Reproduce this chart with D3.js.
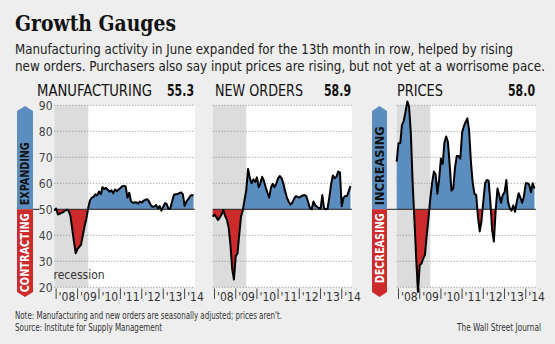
<!DOCTYPE html>
<html>
<head>
<meta charset="utf-8">
<script src="https://cdn.jsdelivr.net/npm/d3@7"></script>
<style>
  html, body { margin: 0; padding: 0; background: #eeeeee; }
  svg { display: block; }
</style>
</head>
<body>
<div id="chart"></div>
<script>
// monthly index readings, Dec 2007 through June 2014
const FIRST_MONTH = new Date(2007, 11, 1);

const manufacturing = [49.5, 50.3, 48.0, 48.3, 48.6, 48.9, 49.5, 49.9, 49.4, 47.5,
  42.5, 37.5, 33.1, 34.8, 35.6, 36.3, 40.1, 43.5, 46.5, 50.5,
  53.5, 54.5, 54.7, 55.8, 55.3, 56.8, 55.8, 58.5, 57.8, 58.2,
  57.5, 56.8, 57.3, 56.2, 57.6, 57.0, 57.6, 58.2, 58.9, 59.0,
  58.8, 54.5, 56.4, 53.1, 52.5, 52.6, 52.7, 52.2, 53.0, 52.6,
  53.3, 53.6, 53.9, 53.1, 51.7, 51.0, 51.1, 51.6, 50.4, 51.2,
  49.5, 51.0, 52.4, 52.0, 50.2, 50.3, 53.0, 55.5, 55.8, 55.8,
  56.2, 56.5, 55.8, 51.3, 53.0, 53.8, 54.9, 55.5, 55.3];

const newOrders = [47.2, 48.0, 47.0, 45.9, 46.8, 48.0, 49.7, 47.5, 46.0, 43.0,
  36.5, 27.0, 23.0, 32.0, 33.0, 40.0, 47.0, 49.5, 53.5, 57.4,
  65.5, 62.0, 60.0, 61.5, 60.5, 62.3, 58.5, 60.0, 62.5, 61.0,
  58.5, 56.4, 54.5, 58.5, 59.8, 58.5, 60.0, 62.0, 62.8, 62.0,
  60.0, 57.0, 54.5, 53.0, 51.8, 52.5, 54.0, 55.0, 54.8, 54.5,
  55.0, 55.3, 55.5, 55.0, 52.8, 50.5, 50.0, 53.0, 51.5, 51.0,
  50.5, 50.2, 55.5, 50.5, 50.0, 50.2, 54.5, 59.5, 63.0, 62.0,
  62.5, 64.5, 64.2, 51.2, 54.5, 55.1, 55.1, 56.9, 58.9];

const prices = [68.3, 75.4, 75.5, 82.5, 84.0, 87.5, 91.5, 89.5, 79.0, 60.0,
  46.0, 31.0, 18.2, 28.5, 29.2, 31.0, 32.5, 40.0, 46.5, 54.0,
  60.0, 64.5, 63.5, 56.0, 61.5, 69.5, 67.5, 75.5, 78.0, 76.0,
  67.0, 57.2, 58.0, 66.0, 70.5, 70.5, 69.5, 79.5, 82.0, 83.5,
  85.0, 80.5, 68.5, 60.5, 56.0, 55.5, 47.0, 41.5, 45.5, 53.0,
  60.0, 61.3, 61.0, 53.0, 42.0, 37.6, 49.5, 58.0, 55.5, 52.5,
  55.5, 56.5, 61.3, 53.0, 50.5, 49.5, 51.5, 49.0, 53.0, 56.2,
  54.5, 52.5, 55.0, 60.0, 60.0, 59.5, 56.5, 60.0, 58.0];

const panelTitles = ["MANUFACTURING", "NEW ORDERS", "PRICES"];
const latestLabels = ["55.3", "58.9", "58.0"];
const yearLabels = ["'08", "'09", "'10", "'11", "'12", "'13", "'14"];
const yTicks = [20, 30, 40, 50, 60, 70, 80, 90];
const RECESSION = [new Date(2007, 11, 1), new Date(2009, 6, 1)];

const WIDTH = 555;
const HEIGHT = 344;
const BLUE = "#5b8dbf";
const RED = "#cd2a2b";
const NARROW = "'Liberation Sans Narrow', 'DejaVu Sans Condensed', Roboto, sans-serif";

const svg = d3.select("#chart")
  .append("svg")
    .attr("width", WIDTH)
    .attr("height", HEIGHT);

svg.append("rect")
  .attr("width", WIDTH)
  .attr("height", HEIGHT)
  .attr("fill", "#eeeeee");

// headline and chatter
svg.append("text")
  .attr("x", 15).attr("y", 31)
  .attr("font-family", "'DejaVu Serif Condensed', 'DejaVu Serif', serif")
  .attr("font-weight", "bold")
  .attr("font-size", 22)
  .attr("textLength", 161)
  .attr("lengthAdjust", "spacingAndGlyphs")
  .attr("fill", "#111")
  .text("Growth Gauges");

const chatter = [
  ["Manufacturing activity in June expanded for the 13th month in row, helped by rising", 54, 498],
  ["new orders. Purchasers also say input prices are rising, but not yet at a worrisome pace.", 71, 530]
];
chatter.forEach(([line, ly, len]) => {
  svg.append("text")
    .attr("x", 15).attr("y", ly)
    .attr("font-family", NARROW)
    .attr("font-size", 14)
    .attr("textLength", len)
    .attr("lengthAdjust", "spacingAndGlyphs")
    .attr("fill", "#222")
    .text(line);
});

const y = d3.scaleLinear().domain([20, 90]).range([287.3, 105.3]);

const panels = [
  {id: "mfg", left: 54.3, right: 195, values: manufacturing, titleX: 37, titleLen: 115, yAxis: true,
   arrow: {x: 17, w: 16, up: "EXPANDING", upLen: 63, down: "CONTRACTING", downLen: 79}},
  {id: "ord", left: 212.7, right: 352, values: newOrders, titleX: 215, titleLen: 88, yAxis: false},
  {id: "prc", left: 396.7, right: 536, values: prices, titleX: 397, titleLen: 46, yAxis: false,
   arrow: {x: 372, w: 15, up: "INCREASING", upLen: 79, down: "DECREASING", downLen: 70}}
];

panels.forEach((p, i) => drawPanel(p, i));

function drawPanel(p, i) {
  const g = svg.append("g");
  const months = p.values.map((v, k) => d3.timeMonth.offset(FIRST_MONTH, k));
  const x = d3.scaleTime()
    .domain([FIRST_MONTH, months[months.length - 1]])
    .range([p.left, p.right - 1.5]);

  // header: name and latest reading
  g.append("text")
    .attr("x", p.titleX).attr("y", 95.5)
    .attr("font-family", NARROW)
    .attr("font-size", 15)
    .attr("textLength", p.titleLen)
    .attr("lengthAdjust", "spacingAndGlyphs")
    .attr("fill", "#111")
    .text(panelTitles[i]);

  g.append("text")
    .attr("x", p.right - 1).attr("y", 95.5)
    .attr("text-anchor", "end")
    .attr("font-family", NARROW)
    .attr("font-size", 15)
    .attr("font-weight", "bold")
    .attr("textLength", 27)
    .attr("lengthAdjust", "spacingAndGlyphs")
    .attr("fill", "#111")
    .text(latestLabels[i]);

  // plot background and recession band
  g.append("rect")
    .attr("x", p.left).attr("y", y(90))
    .attr("width", p.right - p.left)
    .attr("height", y(20) - y(90))
    .attr("fill", "#ffffff");

  g.append("rect")
    .attr("x", x(RECESSION[0])).attr("y", y(90))
    .attr("width", x(RECESSION[1]) - x(RECESSION[0]))
    .attr("height", y(20) - y(90))
    .attr("fill", "#dcdcdc");

  // dotted gridlines
  g.selectAll(".grid")
    .data(yTicks.filter(t => t !== 50))
    .enter()
    .append("line")
      .attr("x1", p.left).attr("x2", p.right)
      .attr("y1", d => y(d)).attr("y2", d => y(d))
      .attr("stroke", "#8a8a8a")
      .attr("stroke-width", 1)
      .attr("stroke-dasharray", "1,2");

  if (p.yAxis) {
    g.selectAll(".ylab")
      .data(yTicks)
      .enter()
      .append("text")
        .attr("x", 52.5)
        .attr("y", d => y(d) + 4.5)
        .attr("text-anchor", "end")
        .attr("font-family", NARROW)
        .attr("font-size", 12)
        .attr("fill", "#444")
        .text(d => d);
  }

  if (i === 0) {
    g.append("text")
      .attr("x", 53.5).attr("y", 279)
      .attr("font-family", NARROW)
      .attr("font-size", 12)
      .attr("fill", "#333")
      .text("recession");
  }

  // fills above and below 50, split with clip paths
  const base = y(50);
  const defs = svg.append("defs");
  defs.append("clipPath").attr("id", "above-" + p.id)
    .append("rect")
      .attr("x", p.left - 5).attr("y", 0)
      .attr("width", p.right - p.left + 10).attr("height", base);
  defs.append("clipPath").attr("id", "below-" + p.id)
    .append("rect")
      .attr("x", p.left - 5).attr("y", base)
      .attr("width", p.right - p.left + 10).attr("height", HEIGHT - base);

  const area = d3.area()
    .x((d, k) => x(months[k]))
    .y0(base)
    .y1(d => y(d));

  g.append("path")
    .datum(p.values)
    .attr("d", area)
    .attr("fill", BLUE)
    .attr("clip-path", "url(#above-" + p.id + ")");

  g.append("path")
    .datum(p.values)
    .attr("d", area)
    .attr("fill", RED)
    .attr("clip-path", "url(#below-" + p.id + ")");

  // the 50 line
  g.append("line")
    .attr("x1", p.left).attr("x2", p.right)
    .attr("y1", base).attr("y2", base)
    .attr("stroke", "#222")
    .attr("stroke-width", 1);

  g.append("path")
    .datum(p.values)
    .attr("d", d3.line().x((d, k) => x(months[k])).y(d => y(d)))
    .attr("fill", "none")
    .attr("stroke", "#000")
    .attr("stroke-width", 2)
    .attr("stroke-linejoin", "round");

  // year ticks along the bottom
  const years = yearLabels.map((lab, k) => new Date(2008 + k, 0, 1));
  g.selectAll(".xtick")
    .data(years)
    .enter()
    .append("line")
      .attr("x1", d => x(d)).attr("x2", d => x(d))
      .attr("y1", 288.5).attr("y2", 299)
      .attr("stroke", "#444")
      .attr("stroke-width", 1);

  g.selectAll(".xlab")
    .data(years)
    .enter()
    .append("text")
      .attr("x", d => x(d) + 2.5)
      .attr("y", 300.5)
      .attr("font-family", NARROW)
      .attr("font-size", 12)
      .attr("fill", "#333")
      .text((d, k) => yearLabels[k]);

  if (p.arrow) drawArrow(p.arrow, p.left, i === 0);
}

// two-coloured direction bar at the side of a panel
function drawArrow(a, plotLeft, hasLabels) {
  const base = y(50);
  const top = 106, bottom = 297, tip = 5;
  const cx = a.x + a.w / 2;

  svg.append("path")
    .attr("d", `M${a.x},${base} L${a.x},${top + tip} L${cx},${top} L${a.x + a.w},${top + tip} L${a.x + a.w},${base} Z`)
    .attr("fill", BLUE);

  svg.append("path")
    .attr("d", `M${a.x},${base} L${a.x},${bottom - tip} L${cx},${bottom} L${a.x + a.w},${bottom - tip} L${a.x + a.w},${base} Z`)
    .attr("fill", RED);

  // short link from the bar to the 50 line
  svg.append("line")
    .attr("x1", a.x + a.w).attr("x2", hasLabels ? 39.5 : plotLeft)
    .attr("y1", base).attr("y2", base)
    .attr("stroke", "#222")
    .attr("stroke-width", 1);

  svg.append("text")
    .attr("transform", `translate(${cx + 4},${base - 4}) rotate(-90)`)
    .attr("font-family", NARROW)
    .attr("font-weight", "bold")
    .attr("font-size", 11.5)
    .attr("textLength", a.upLen)
    .attr("lengthAdjust", "spacingAndGlyphs")
    .attr("fill", "#111")
    .text(a.up);

  svg.append("text")
    .attr("transform", `translate(${cx + 4},${base + 4 + a.downLen}) rotate(-90)`)
    .attr("font-family", NARROW)
    .attr("font-weight", "bold")
    .attr("font-size", 11.5)
    .attr("textLength", a.downLen)
    .attr("lengthAdjust", "spacingAndGlyphs")
    .attr("fill", "#ffffff")
    .text(a.down);
}

// footnotes
const notes = [
  ["Note: Manufacturing and new orders are seasonally adjusted; prices aren't.", 15, 319, "start", 267],
  ["Source: Institute for Supply Management", 15, 330.5, "start", 147],
  ["The Wall Street Journal", 541, 330.5, "end", 84]
];
notes.forEach(([txt, nx, ny, anchor, len]) => {
  svg.append("text")
    .attr("x", nx).attr("y", ny)
    .attr("text-anchor", anchor)
    .attr("font-family", NARROW)
    .attr("font-size", 10)
    .attr("textLength", len)
    .attr("lengthAdjust", "spacingAndGlyphs")
    .attr("fill", "#333")
    .text(txt);
});
</script>
</body>
</html>
